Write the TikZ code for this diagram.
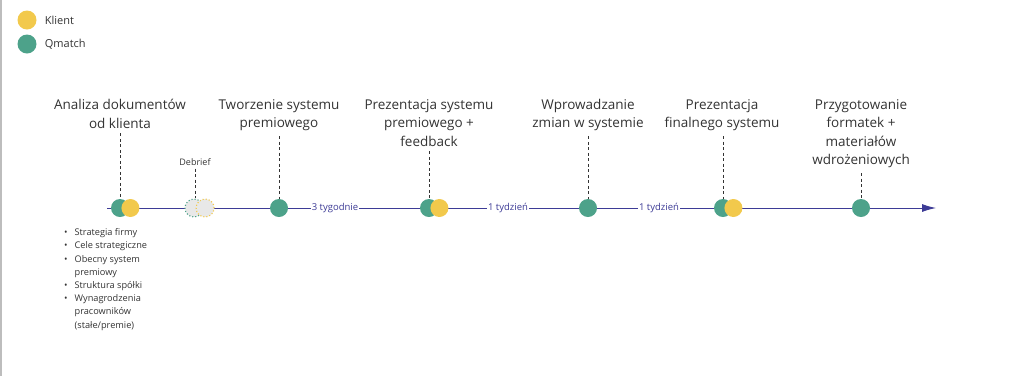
\documentclass[tikz,border=0pt]{standalone}
\usepackage{fontspec}
\setmainfont{Open Sans}
\usetikzlibrary{arrows.meta,positioning,calc}
\definecolor{cGreen}{HTML}{4DA28A}
\definecolor{cYellow}{HTML}{F2C94C}
\definecolor{cLine}{HTML}{3D3B96}
\definecolor{cInk}{HTML}{333333}
\definecolor{cEdge}{HTML}{BDBDBD}
\tikzset{
  dot/.style     = {circle, minimum size=18pt, inner sep=0pt},
  qm/.style      = {dot, fill=cGreen},
  kl/.style      = {dot, fill=cYellow},
  ghostqm/.style = {dot, fill=black!9, draw=cGreen, dotted, line width=1.1pt},
  ghostkl/.style = {dot, fill=black!9, draw=cYellow, dotted, line width=1.1pt},
  phase/.style   = {font=\fontsize{13.5}{18.5}\selectfont, text=cInk, align=center,
                    anchor=north, inner sep=0pt},
  stem/.style    = {draw=cInk, line width=0.8pt, dash pattern=on 3pt off 2.5pt,
                    shorten <=5pt},
  gap/.style     = {fill=white, text=cLine, font=\fontsize{9.5}{11}\selectfont,
                    inner sep=1pt},
  axis/.style    = {draw=cLine, line width=0.9pt, -{Latex[length=14pt,width=8pt]}},
  legend/.style  = {font=\fontsize{11}{13}\selectfont, text=cInk, inner sep=0pt},
  note/.style    = {font=\fontsize{9.2}{13.2}\selectfont, text=cInk, inner sep=0pt},
}

\begin{document}
\begin{tikzpicture}[x=1pt, y=-1pt]
  \useasboundingbox (0,0) rectangle (1024,376);
  \draw[cEdge, line width=1.5pt] (1,0) -- (1,376);

  % legend
  \node[kl, minimum size=19pt] (legkl) at (27,20) {};
  \node[legend, right=8pt of legkl] (legkltxt) {Klient};
  \node[qm, minimum size=19pt] (legqm) at (27,44) {};
  \node[legend, right=8pt of legqm] (legqmtxt) {Qmatch};

  % time axis
  \coordinate (tstart) at (107,208);
  \coordinate (tend) at (936,208);
  \draw[axis] (tstart) -- (tend);
  \node[gap] (w1) at (335,208) {3 tygodnie};
  \node[gap] (w2) at (508,208) {1 tydzień};
  \node[gap] (w3) at (659,208) {1 tydzień};

  % milestones
  \node[qm] (m1q) at (120,208) {};
  \node[kl, right=-8pt of m1q] (m1k) {};
  \node[ghostqm] (dbq) at (194,208) {};
  \node[ghostkl, right=-8pt of dbq] (dbk) {};
  \node[qm] (m2q) at (279,208) {};
  \node[qm] (m3q) at (429,208) {};
  \node[kl, right=-8pt of m3q] (m3k) {};
  \node[qm] (m4q) at (588,208) {};
  \node[qm] (m5q) at (723,208) {};
  \node[kl, right=-8pt of m5q] (m5k) {};
  \node[qm] (m6q) at (861,208) {};

  % phase labels
  \node[phase] (l1) at (120,99) {Analiza dokumentów\\od klienta};
  \node[phase] (l2) at (279,99) {Tworzenie systemu\\premiowego};
  \node[phase] (l3) at (429,99) {Prezentacja systemu\\premiowego +\\feedback};
  \node[phase] (l4) at (588,99) {Wprowadzanie\\zmian w systemie};
  \node[phase] (l5) at (722,99) {Prezentacja\\finalnego systemu};
  \node[phase] (l6) at (861,99) {Przygotowanie\\formatek +\\materiałów\\wdrożeniowych};
  \node[font=\fontsize{9}{11}\selectfont, text=cInk, inner sep=0pt] (ldb) at (195,162) {Debrief};

  \draw[stem] (l1.south -| m1q) -- (m1q.north);
  \draw[stem] (l2.south -| m2q) -- (m2q.north);
  \draw[stem] (l3.south -| m3q) -- (m3q.north);
  \draw[stem] (l4.south -| m4q) -- (m4q.north);
  \draw[stem] (l5.south -| m5q) -- (m5q.north);
  \draw[stem] (l6.south -| m6q) -- (m6q.north);
  \draw[stem, shorten <=3pt] (ldb.south) -- (ldb.south |- dbq.north);

  % documents from the client
  \node[note, anchor=base west] (docs) at (64,235.7) {%
    \begin{tabular}[t]{@{}l@{\hspace{7pt}}l@{}}
      \textbullet & Strategia firmy\\
      \textbullet & Cele strategiczne\\
      \textbullet & Obecny system\\
                  & premiowy\\
      \textbullet & Struktura spółki\\
      \textbullet & Wynagrodzenia\\
                  & pracowników\\
                  & (stałe/premie)
    \end{tabular}};
\end{tikzpicture}
\end{document}
